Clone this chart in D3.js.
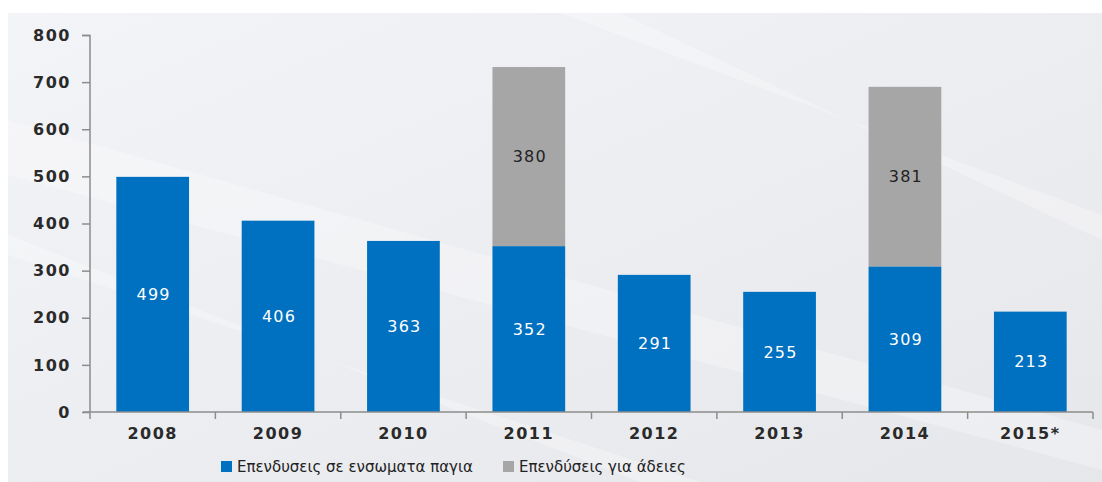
<!DOCTYPE html>
<html><head><meta charset="utf-8">
<script src="https://cdn.jsdelivr.net/npm/d3@7"></script>
<style>body{margin:0;background:#fff;}svg{display:block;}</style>
</head><body>
<svg id="c" width="1102" height="482"></svg>
<script>
const categories = ["2008","2009","2010","2011","2012","2013","2014","2015*"];
const tangible = [499,406,363,352,291,255,309,213];
const licenses = [0,0,0,380,0,0,381,0];
const seriesNames = ["Επενδυσεις σε ενσωματα παγια","Επενδύσεις για άδειες"];
const yTicks = [0,100,200,300,400,500,600,700,800];
const colors = ["#0070C0","#A6A6A6"];

const svg = d3.select("#c");
const defs = svg.append("defs");
const g1 = defs.append("linearGradient").attr("id","bg").attr("x1","0").attr("y1","0").attr("x2","1").attr("y2","1");
g1.append("stop").attr("offset","0").attr("stop-color","#f3f4f7");
g1.append("stop").attr("offset","1").attr("stop-color","#e6e7eb");
svg.append("rect").attr("x",8).attr("y",13).attr("width",1094).attr("height",469).attr("fill","url(#bg)");
// soft diagonal streaks
const streaks = [
  [[8,120],[8,175],[1102,470],[1102,430]],
  [[8,235],[8,255],[700,482],[640,482]],
  [[560,13],[620,13],[1102,240],[1102,215]]
];
svg.append("g").selectAll("path").data(streaks).join("path")
  .attr("d",d=>d3.line()(d)+"Z").attr("fill","#ffffff").attr("opacity",0.28);

const x = d3.scaleBand().domain(categories).range([90,1093]).paddingInner(0.42).paddingOuter(0.21);
const y = d3.scaleLinear().domain([0,800]).range([412,35]);

const data = categories.map((c,i)=>({c, a:tangible[i], b:licenses[i]}));

// bars
svg.append("g").selectAll("rect").data(data).join("rect")
  .attr("x",d=>x(d.c)).attr("width",x.bandwidth())
  .attr("y",d=>y(d.a)).attr("height",d=>y(0)-y(d.a)).attr("fill",colors[0]);
svg.append("g").selectAll("rect").data(data.filter(d=>d.b>0)).join("rect")
  .attr("x",d=>x(d.c)).attr("width",x.bandwidth())
  .attr("y",d=>y(d.a+d.b)).attr("height",d=>y(d.a)-y(d.a+d.b)).attr("fill",colors[1]);

const font = "DejaVu Sans, Verdana, sans-serif";
// value labels
const lab = svg.append("g").attr("font-family",font).attr("font-size",16)
  .attr("text-anchor","middle").attr("letter-spacing","1.2px");
lab.selectAll("text.a").data(data).join("text").attr("class","a")
  .attr("x",d=>x(d.c)+x.bandwidth()/2+1).attr("y",d=>y(d.a/2)).attr("dy","0.35em")
  .attr("fill","#fff").text(d=>d.a);
lab.selectAll("text.b").data(data.filter(d=>d.b>0)).join("text").attr("class","b")
  .attr("x",d=>x(d.c)+x.bandwidth()/2+1).attr("y",d=>y(d.a+d.b/2)).attr("dy","0.35em")
  .attr("fill","#222").text(d=>d.b);

// y axis
const ya = svg.append("g").attr("transform","translate(90,0)")
  .call(d3.axisLeft(y).tickValues(yTicks).tickSize(8).tickPadding(11));
ya.select(".domain").attr("stroke","#8c8c8c").attr("stroke-width",1.5).attr("d","M-8,35.5H0V412");
ya.selectAll(".tick line").attr("stroke","#8c8c8c").attr("stroke-width",1.5);
ya.selectAll("text").attr("font-family",font).attr("font-size",16)
  .attr("font-weight","bold").attr("fill","#2a2a2a").attr("letter-spacing","1.5px");

// x axis
const xa = svg.append("g").attr("transform","translate(0,412)")
  .call(d3.axisBottom(x).tickSize(0).tickPadding(16));
xa.select(".domain").attr("stroke","#8c8c8c").attr("stroke-width",1.5).attr("d","M83,0H1093");
xa.selectAll("text").attr("font-family",font).attr("font-size",16)
  .attr("font-weight","bold").attr("fill","#2a2a2a").attr("letter-spacing","1.5px");
const step = x.step();
const bounds = d3.range(categories.length+1).map(i=>90+i*step);
xa.append("g").selectAll("line").data(bounds).join("line")
  .attr("x1",d=>d).attr("x2",d=>d).attr("y1",0).attr("y2",7)
  .attr("stroke","#8c8c8c").attr("stroke-width",1.5);

// legend
const leg = svg.append("g").attr("font-family",font).attr("font-size",15).attr("fill","#222");
const legX = [221,503];
seriesNames.forEach((n,i)=>{
  leg.append("rect").attr("x",legX[i]).attr("y",461).attr("width",11).attr("height",11).attr("fill",colors[i]);
  leg.append("text").attr("x",legX[i]+16).attr("y",467).attr("dy","0.35em").text(n);
});
</script>
</body></html>
